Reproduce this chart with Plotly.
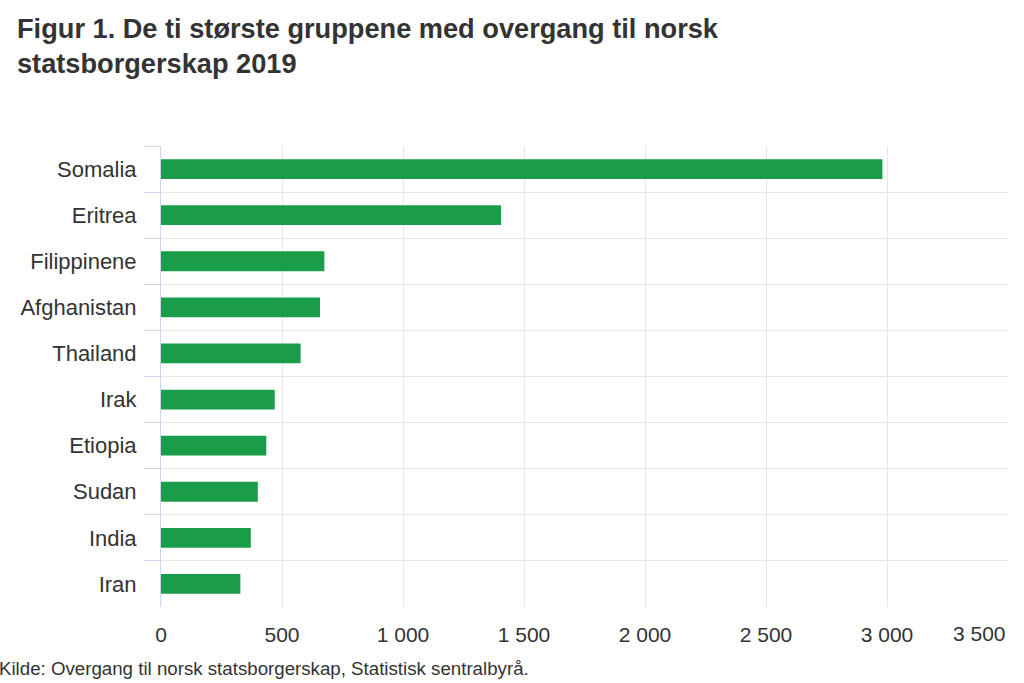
import plotly.graph_objects as go

# data (SSB, 2019)
countries = ["Somalia", "Eritrea", "Filippinene", "Afghanistan", "Thailand",
             "Irak", "Etiopia", "Sudan", "India", "Iran"]
counts = [2981, 1405, 675, 657, 577, 470, 435, 400, 371, 328]
tick_vals = [0, 500, 1000, 1500, 2000, 2500, 3000, 3500]
tick_text = ["0", "500", "1 000", "1 500", "2 000", "2 500", "3 000", ""]

FONT = "Liberation Sans, Arial, sans-serif"

fig = go.Figure()
fig.add_trace(go.Bar(x=counts, y=countries, orientation="h",
                     marker=dict(color="#1a9d49", line=dict(width=0)),
                     width=0.43))

fig.update_xaxes(range=[0, 3500], tickvals=tick_vals, ticktext=tick_text,
                 showgrid=True, gridcolor="#e6e6e6", gridwidth=1,
                 zeroline=False, showline=False, ticks="",
                 ticklabelstandoff=13,
                 tickfont=dict(family=FONT, size=21, color="#333333"))
fig.update_yaxes(categoryorder="array", categoryarray=countries,
                 autorange="reversed", tickson="boundaries",
                 ticks="outside", ticklen=16, tickcolor="#ccd6eb",
                 showline=True, linecolor="#ccd6eb", linewidth=1,
                 showgrid=True, gridcolor="#e6e6e6", gridwidth=1,
                 ticklabelstandoff=19,
                 tickfont=dict(family=FONT, size=22, color="#333333"))

# title as annotation (multi-line layout.title drifts upward)
fig.add_annotation(text="<b>Figur 1. De ti største gruppene med overgang til norsk<br>statsborgerskap 2019</b>",
                   x=-0.1729, xref="paper", xanchor="left", align="left",
                   y=1.292, yref="paper", yanchor="top", showarrow=False,
                   font=dict(family=FONT, size=27.2, color="#333333"))
# the last tick label is pulled left so it stays inside the picture
fig.add_annotation(text="3 500", x=1, xref="paper", xanchor="right",
                   y=-0.057, yref="paper", yanchor="middle", showarrow=False,
                   font=dict(family=FONT, size=21, color="#333333"))
fig.add_annotation(text="Kilde: Overgang til norsk statsborgerskap, Statistisk sentralbyrå.",
                   x=-0.1942, xref="paper", xanchor="left",
                   y=-0.133, yref="paper", yanchor="middle", showarrow=False,
                   font=dict(family=FONT, size=18.7, color="#333333"))

fig.update_layout(
    width=1024, height=683,
    margin=dict(l=161, r=16, t=146, b=76),
    paper_bgcolor="white", plot_bgcolor="white",
    showlegend=False,
    bargap=0.57,
)

fig.write_html("out.html", config={"displayModeBar": False},
               post_script="document.body.style.margin='0';")
